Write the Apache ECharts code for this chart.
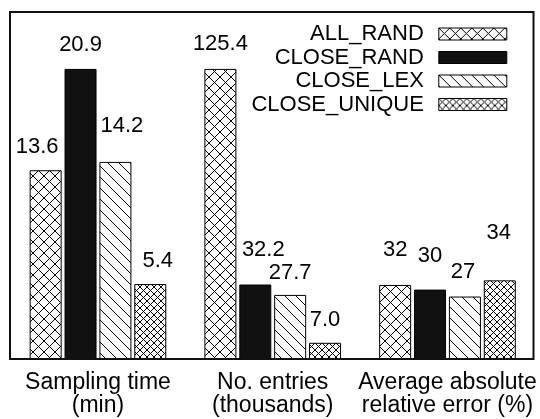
<!DOCTYPE html>
<html>
<head>
<meta charset="utf-8">
<script src="https://cdn.jsdelivr.net/npm/echarts@6/dist/echarts.min.js"></script>
<style>html,body{margin:0;padding:0;background:#fff}#c{width:540px;height:419px}</style>
</head>
<body>
<div id="c"></div>
<script>
// ---- data ----
const methods = ['ALL_RAND', 'CLOSE_RAND', 'CLOSE_LEX', 'CLOSE_UNIQUE'];
const groupLeft = ['Sampling time\n(min)'];
const groupRight = ['No. entries\n(thousands)', 'Average absolute\nrelative error (%)'];
const samplingTime = [13.6, 20.9, 14.2, 5.4];
const entriesK = [125.4, 32.2, 27.7, 7.0];
const errorPct = [32, 30, 27, 34];

// ---- label placement (style only) ----
const offLeft = [[-8.5, -12.6], [0, -13], [6.5, -24.6], [7.5, -12.6]];
const offEntries = [[0, -14.2], [8, -23.2], [0, -11.2], [0, -11.6]];
const offError = [[0, -23.6], [0, -22.6], [-2, -13.2], [-1, -36.2]];

const FONT = 'Liberation Sans, Arial, Helvetica, sans-serif';

function tile(w, h, draw) {
  const c = document.createElement('canvas');
  c.width = w; c.height = h;
  const g = c.getContext('2d');
  g.fillStyle = '#fff'; g.fillRect(0, 0, w, h);
  g.strokeStyle = '#000'; g.lineWidth = 1;
  draw(g, w, h);
  return { image: c, repeat: 'repeat' };
}
function back(g, w, h) { for (let k = -1; k <= 1; k++) { g.beginPath(); g.moveTo(k * w, 0); g.lineTo(k * w + w, h); g.stroke(); } }
function fwd(g, w, h) { for (let k = -1; k <= 1; k++) { g.beginPath(); g.moveTo(k * w, h); g.lineTo(k * w + w, 0); g.stroke(); } }

const fills = [
  tile(11, 11, (g, w, h) => { back(g, w, h); fwd(g, w, h); }),
  '#111',
  tile(11, 11, (g, w, h) => { back(g, w, h); }),
  tile(7, 7, (g, w, h) => { back(g, w, h); fwd(g, w, h); })
];

const series = [];
methods.forEach((m, i) => {
  series.push({
    type: 'bar', name: m, xAxisIndex: 0, yAxisIndex: 0,
    barWidth: 32, barGap: '9%',
    itemStyle: { color: fills[i], borderColor: '#000', borderWidth: 1 },
    data: [{ value: samplingTime[i], label: { offset: offLeft[i] } }],
    label: { show: true, position: 'top', distance: 0, color: '#000', fontSize: 22, fontFamily: FONT,
      formatter: p => p.value.toFixed(1) }
  });
});
methods.forEach((m, i) => {
  series.push({
    type: 'bar', name: m, xAxisIndex: 1, yAxisIndex: 1,
    barWidth: 32, barGap: '9%',
    itemStyle: { color: fills[i], borderColor: '#000', borderWidth: 1 },
    data: [
      { value: entriesK[i], label: { offset: offEntries[i] } },
      { value: errorPct[i], label: { offset: offError[i] } }
    ],
    label: { show: true, position: 'top', distance: 0, color: '#000', fontSize: 22, fontFamily: FONT,
      formatter: p => p.dataIndex === 0 ? p.value.toFixed(1) : String(p.value) }
  });
});

const xLabel = { color: '#000', fontSize: 23, lineHeight: 23, fontFamily: FONT, margin: 12.5, interval: 0 };
const chart = echarts.init(document.getElementById('c'), null, { renderer: 'canvas' });
chart.setOption({
  animation: false,
  backgroundColor: '#fff',
  textStyle: { fontFamily: FONT },
  grid: [
    { left: 10.6, top: 12, width: 174.75, height: 347 },
    { left: 185.35, top: 12, width: 349.5, height: 347 }
  ],
  xAxis: [
    { type: 'category', gridIndex: 0, data: groupLeft, axisLine: { show: false }, axisTick: { show: false }, axisLabel: xLabel },
    { type: 'category', gridIndex: 1, data: groupRight, axisLine: { show: false }, axisTick: { show: false }, axisLabel: xLabel }
  ],
  yAxis: [
    { type: 'value', gridIndex: 0, min: 0, max: 25, show: false, splitLine: { show: false } },
    { type: 'value', gridIndex: 1, min: 0, max: 150, show: false, splitLine: { show: false } }
  ],
  legend: {
    data: methods, orient: 'vertical', align: 'right', right: 32.7, top: 23, padding: 0,
    itemWidth: 68, itemHeight: 12, itemGap: 1.5, icon: 'rect', selectedMode: false,
    itemStyle: { borderColor: '#000', borderWidth: 1 },
    textStyle: { color: '#000', fontSize: 22, lineHeight: 22, fontFamily: FONT, padding: [0, 10, 0, 0] }
  },
  graphic: [{
    type: 'rect', z: 100, silent: true,
    shape: { x: 10, y: 12, width: 523.5, height: 347 },
    style: { fill: 'none', stroke: '#111', lineWidth: 2 }
  }],
  series: series
});
</script>
</body>
</html>
